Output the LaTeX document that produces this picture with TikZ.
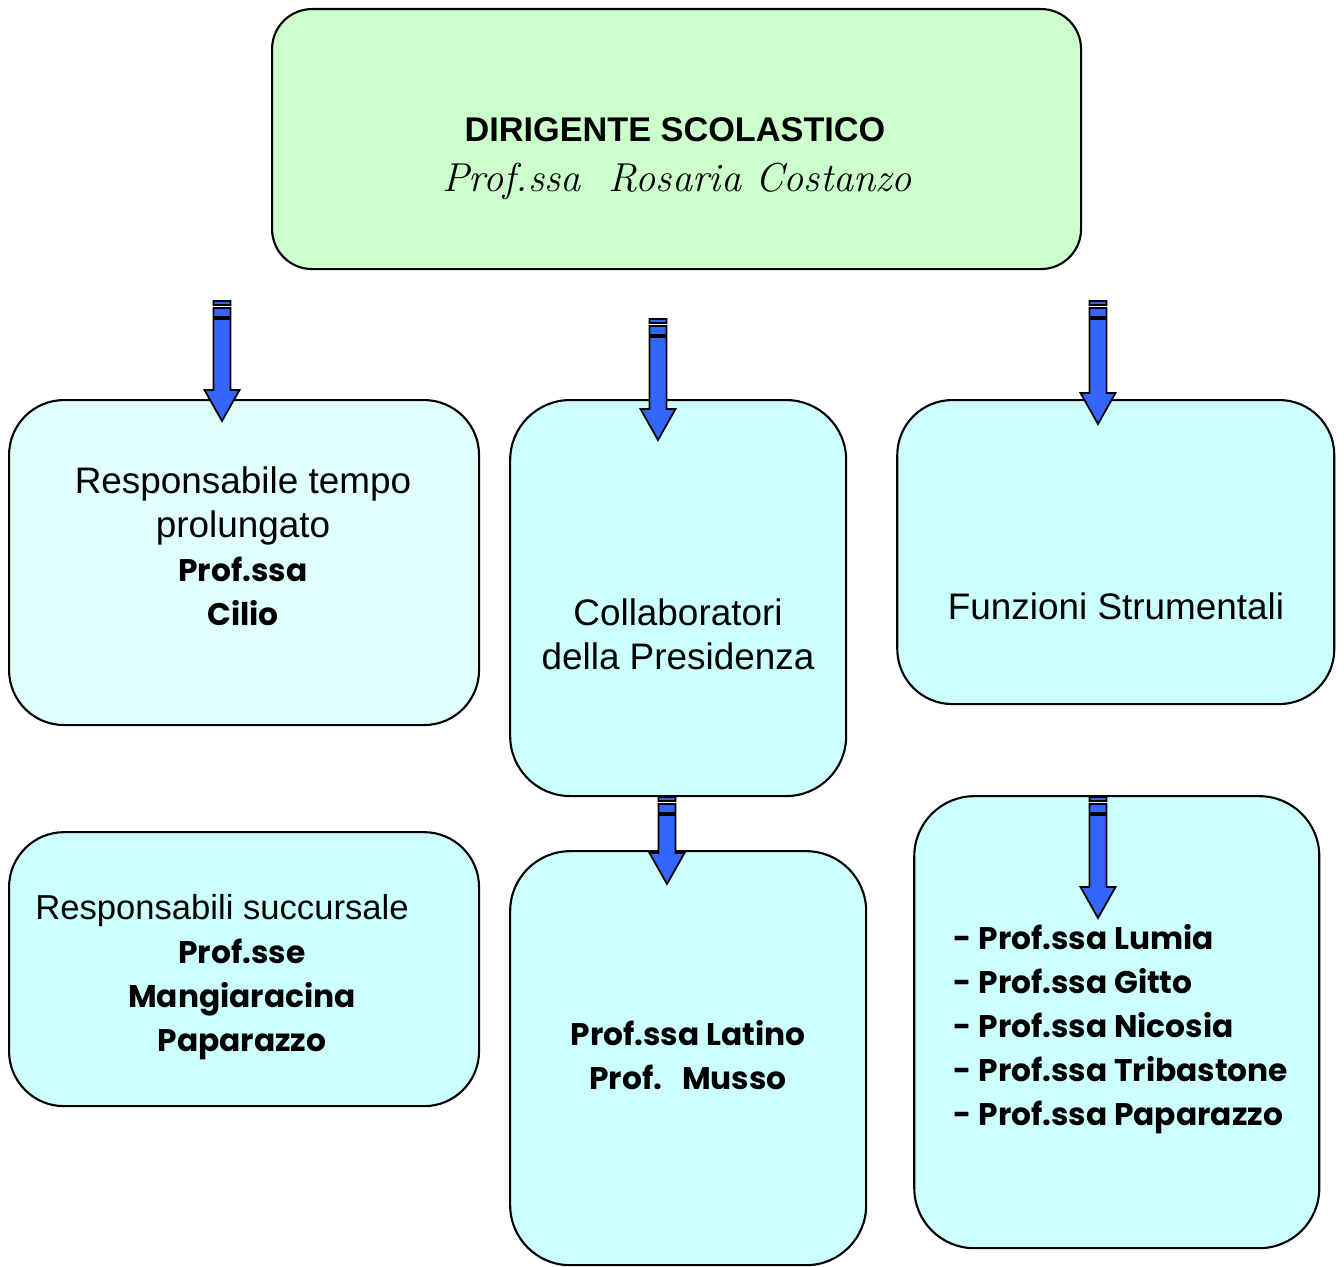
\documentclass[tikz,border=0pt]{standalone}
\usepackage{fontspec}
\setmainfont{Liberation Sans}
\newfontfamily\comicfont{Poppins}
\newfontfamily\corsiva{Latin Modern Roman}
\usetikzlibrary{positioning,calc}
\definecolor{headgreen}{HTML}{CCFFCC}
\definecolor{palecyan}{HTML}{E0FFFF}
\definecolor{boxcyan}{HTML}{CCFFFF}
\definecolor{arrowblue}{HTML}{3366FF}
\tikzset{
  orgbox/.style={draw, line width=1.2pt, rounded corners=1.1cm, fill=boxcyan, inner sep=0pt},
  arrowpart/.style={fill=arrowblue, draw=black, line width=1pt, line join=miter},
  roletext/.style={font=\fontsize{21}{25}\selectfont, align=center},
  names/.style={font=\comicfont\bfseries\fontsize{17.8}{25}\selectfont, align=center},
}
\newcommand{\namefont}{\comicfont\bfseries\fontsize{17.8}{25}\selectfont}
% striped block arrow from #1 (top) down to #2 (tip)
\newcommand{\stripearrow}[2]{%
  \filldraw[arrowpart] let \p1=(#1), \p2=(#2) in
    (\x1-0.17cm,\y1-0.02cm) rectangle (\x1+0.17cm,\y1-0.10cm)
    (\x1-0.17cm,\y1-0.16cm) rectangle (\x1+0.17cm,\y1-0.34cm)
    (\x1-0.17cm,\y1-0.38cm) -- (\x1+0.17cm,\y1-0.38cm) -- (\x1+0.17cm,\y2+0.62cm)
    -- (\x1+0.35cm,\y2+0.62cm) -- (\x1,\y2) -- (\x1-0.35cm,\y2+0.62cm)
    -- (\x1-0.17cm,\y2+0.62cm) -- cycle;}

\begin{document}
\begin{tikzpicture}
\useasboundingbox (0,0) rectangle (26.88,-25.32);

% boxes
\node[orgbox, fill=headgreen, rounded corners=0.8cm, minimum width=16.18cm, minimum height=5.2cm,
  anchor=north west] (head) at (5.42,-0.16) {};
\node[orgbox, fill=palecyan, minimum width=9.4cm, minimum height=6.5cm,
  anchor=north west] (tempo) at (0.16,-7.98) {};
\node[orgbox, rounded corners=1.2cm, minimum width=6.72cm, minimum height=7.92cm,
  right=0.58cm of tempo.north east, anchor=north west] (collab) {};
\node[orgbox, minimum width=8.74cm, minimum height=6.08cm,
  right=0.98cm of collab.north east, anchor=north west] (funz) {};
\node[orgbox, minimum width=9.4cm, minimum height=5.48cm,
  below=2.10cm of tempo.south west, anchor=north west] (succ) {};
\node[orgbox, rounded corners=1.2cm, minimum width=7.12cm, minimum height=8.28cm,
  below=1.06cm of collab.south west, anchor=north west] (vice) {};
\node[orgbox, rounded corners=1.2cm, minimum width=8.1cm, minimum height=9.04cm,
  below right=1.80cm and 0.34cm of funz.south west, anchor=north west] (fslist) {};

% texts
\node[font=\bfseries\fontsize{19.5}{24}\selectfont] (ds) at (13.50,-2.60) {DIRIGENTE SCOLASTICO};
\node[font=\corsiva\itshape\fontsize{23}{28}\selectfont] (dsname) at (13.54,-3.62) {Prof.ssa\ \ Rosaria Costanzo};
\node[roletext] (ttempo) at (4.86,-10.92) {Responsabile tempo\\prolungato\\
  {\namefont Prof.ssa}\\{\namefont Cilio}};
\node[roletext] (tcollab) at (13.56,-12.69) {Collaboratori\\della Presidenza};
\node[roletext] (tfunz) at (22.32,-12.12) {Funzioni Strumentali};
\node[roletext] (tsucc) at (4.84,-19.55) {{\fontsize{19.7}{25}\selectfont Responsabili succursale}\hspace*{0.8cm}\\
  {\namefont Prof.sse}\\{\namefont Mangiaracina}\\{\namefont Paparazzo}};
\node[names] (tvice) at (13.76,-21.10) {Prof.ssa Latino\\Prof.\ \ \ Musso};
\node[names, align=left, anchor=west] (tlist) at (18.95,-20.58) {- Prof.ssa Lumia\\- Prof.ssa Gitto\\
  - Prof.ssa Nicosia\\- Prof.ssa Tribastone\\- Prof.ssa Paparazzo};

% arrows
\coordinate (a1) at (4.44,-6.00);  \coordinate (b1) at (4.44,-8.42);
\coordinate (a2) at (13.16,-6.36); \coordinate (b2) at (13.16,-8.80);
\coordinate (a3) at (21.96,-6.00); \coordinate (b3) at (21.96,-8.48);
\coordinate (a4) at (13.34,-15.92); \coordinate (b4) at (13.34,-17.68);
\coordinate (a5) at (21.96,-15.92); \coordinate (b5) at (21.96,-18.36);
\stripearrow{a1}{b1}
\stripearrow{a2}{b2}
\stripearrow{a3}{b3}
\stripearrow{a4}{b4}
\stripearrow{a5}{b5}

\end{tikzpicture}
\end{document}
